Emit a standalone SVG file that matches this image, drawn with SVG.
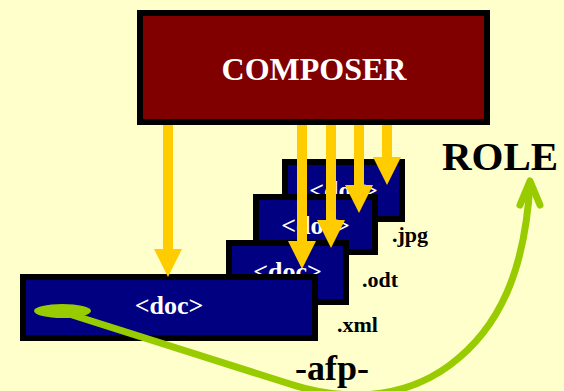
<svg xmlns="http://www.w3.org/2000/svg" width="564" height="391" viewBox="0 0 564 391">
<style>
.box{stroke:#000;stroke-width:6}
.doc{fill:#000080}
.t{font-family:"Liberation Serif","Times New Roman",serif;font-weight:bold}
.w{fill:#fff}
.k{fill:#000}
.arr{fill:#FFCC00}
.green{fill:none;stroke:#99CC00;stroke-width:7;stroke-linecap:round;stroke-linejoin:round}
</style>
<rect x="0" y="0" width="564" height="391" fill="#FFFFCC"/>
<g id="composer">
<rect class="box" x="140" y="13" width="347" height="109" fill="#800000"/>
<text class="t w" x="314" y="80" font-size="32" text-anchor="middle">COMPOSER</text>
</g>
<g id="doc-jpg">
<rect class="box doc" x="285" y="162" width="117" height="57"/>
<text class="t w" x="343.5" y="199" font-size="26" text-anchor="middle">&lt;doc&gt;</text>
</g>
<g id="doc-odt">
<rect class="box doc" x="256" y="197" width="119" height="55"/>
<text class="t w" x="315.5" y="234" font-size="26" text-anchor="middle">&lt;doc&gt;</text>
</g>
<g id="doc-xml">
<rect class="box doc" x="229" y="243" width="117" height="59"/>
<text class="t w" x="287.5" y="280" font-size="26" text-anchor="middle">&lt;doc&gt;</text>
</g>
<g id="doc-main">
<rect class="box doc" x="23" y="277" width="292" height="61"/>
<text class="t w" x="169" y="314" font-size="26" text-anchor="middle">&lt;doc&gt;</text>
<ellipse cx="62.5" cy="311" rx="28.5" ry="7" fill="#99CC00"/>
</g>
<g id="labels">
<text class="t k" x="392" y="242" font-size="22">.jpg</text>
<text class="t k" x="362" y="287" font-size="22">.odt</text>
<text class="t k" x="337" y="332" font-size="22">.xml</text>
</g>
<g id="connectors">
<path class="arr" d="M163 125H173V249H182L168 277L154 249H163Z"/>
<path class="arr" d="M297 125H307V241H316L302 269L288 241H297Z"/>
<path class="arr" d="M326 125H336V220H345L331 248L317 220H326Z"/>
<path class="arr" d="M354 125H364V185H373L359 213L345 185H354Z"/>
<path class="arr" d="M382 125H392V157H401L387 185L373 157H382Z"/>
<path class="green" d="M66 313L290 384C340 400 400 402 450 365C500 328 525 270 530 183"/>
<polyline class="green" points="520,205 530,181 540,205"/>
</g>
<g id="role">
<text class="t k" x="500" y="170" font-size="41" text-anchor="middle">ROLE</text>
</g>
<g id="afp">
<text class="t k" x="332" y="380" font-size="36" text-anchor="middle">-afp-</text>
</g>
</svg>
